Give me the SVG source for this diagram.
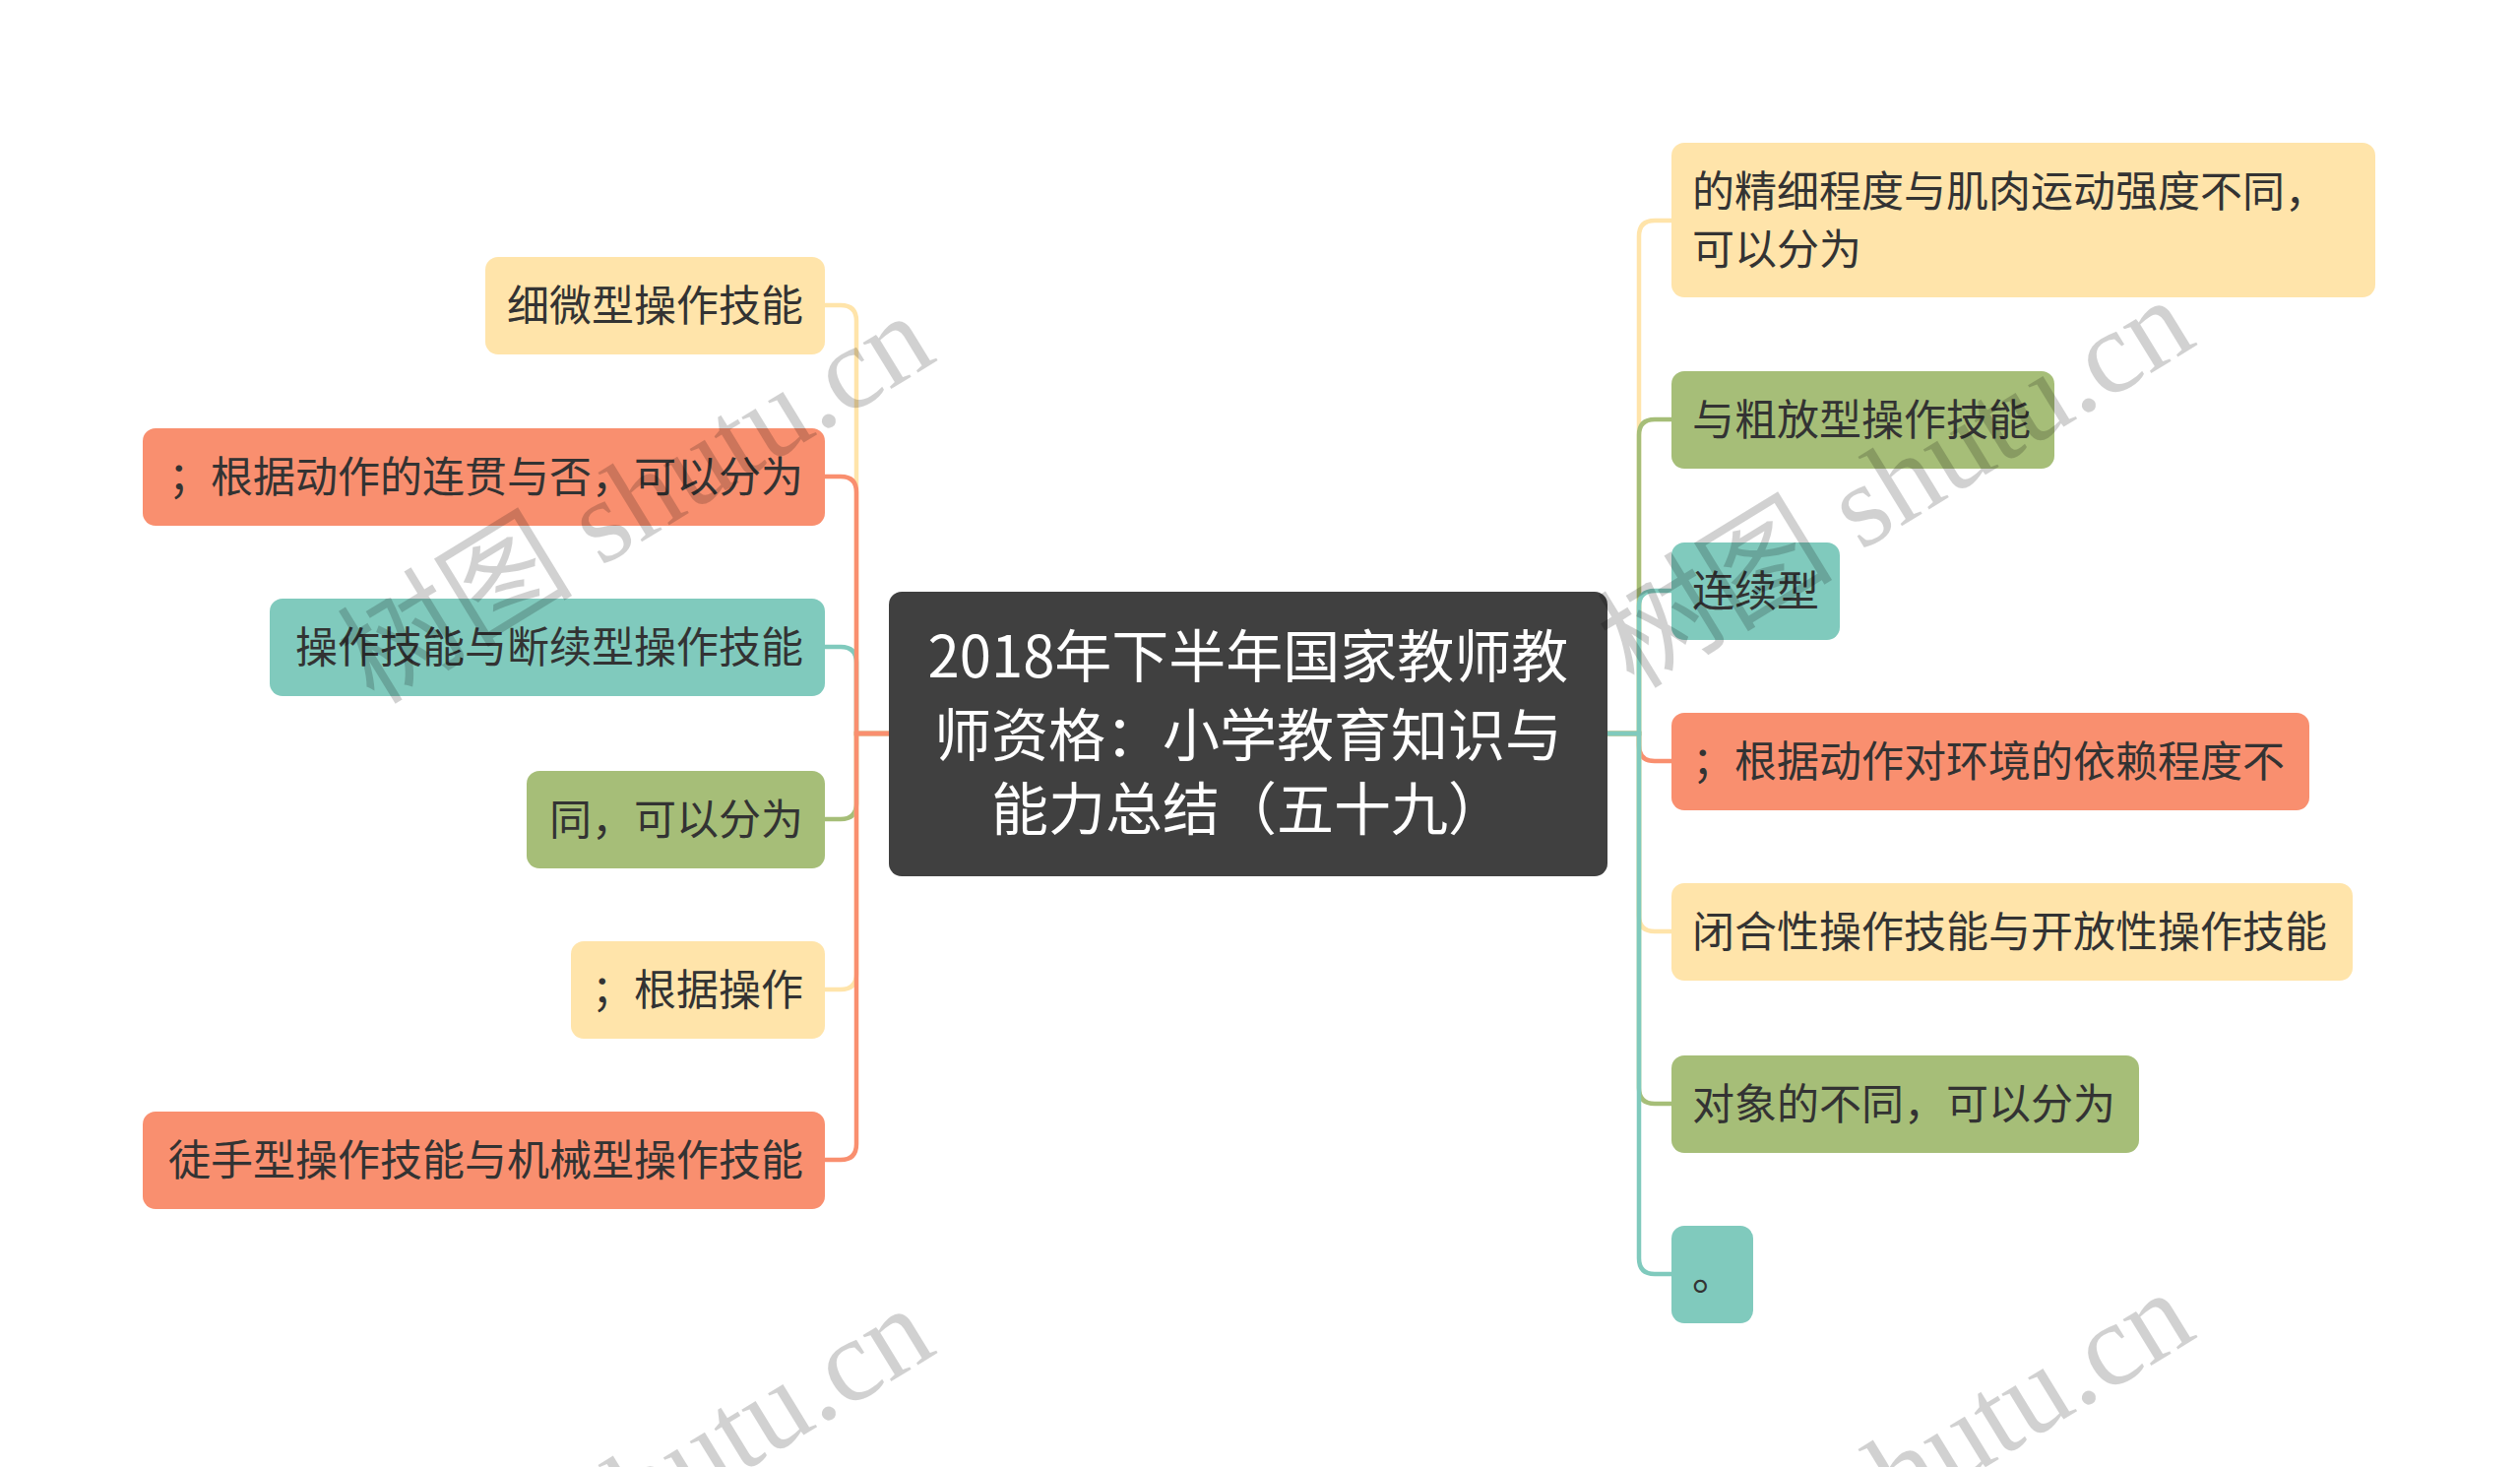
<svg xmlns="http://www.w3.org/2000/svg" width="2560" height="1490" viewBox="0 0 2560 1490">
<style>
.t{font-family:"Noto Sans CJK SC","Noto Sans",sans-serif;font-size:43px;fill:#333333}
.c{font-family:"Noto Sans CJK SC","Noto Sans",sans-serif;font-size:58px;fill:#ffffff;text-anchor:middle}
.y{fill:#FFE4AA}
.o{fill:#F98F6F}
.g{fill:#A6BE78}
.q{fill:#80CABD}
.ln{fill:none;stroke-width:4.5}
.ly{stroke:#FFE4AA}
.lo{stroke:#F98F6F}
.lg{stroke:#A6BE78}
.lq{stroke:#80CABD}
.wm{font-family:"Liberation Serif","Noto Sans CJK SC",serif;font-size:120px;fill:#000;fill-opacity:0.18}
</style>
<rect width="2560" height="1490" fill="#ffffff"/>
<g id="connectors">
<path class="ln ly" d="M903 745H870V326Q870 310 854 310H838"/>
<path class="ln lq" d="M903 745H870V673Q870 657 854 657H838"/>
<path class="ln lg" d="M903 745H870V816Q870 832 854 832H838"/>
<path class="ln ly" d="M903 745H870V989Q870 1005 854 1005H838"/>
<path class="ln lo" d="M903 745H870V500Q870 484 854 484H838"/>
<path class="ln lo" d="M903 745H870V1162Q870 1178 854 1178H838"/>
<path class="ln ly" d="M1633 745H1665V240Q1665 224 1681 224H1698"/>
<path class="ln lg" d="M1633 745H1665V442Q1665 426 1681 426H1698"/>
<path class="ln lo" d="M1633 745H1665V757Q1665 773 1681 773H1698"/>
<path class="ln ly" d="M1633 745H1665V930Q1665 946 1681 946H1698"/>
<path class="ln lg" d="M1633 745H1665V1105Q1665 1121 1681 1121H1698"/>
<path class="ln lq" d="M1633 745H1665V616Q1665 600 1681 600H1698"/>
<path class="ln lq" d="M1633 745H1665V1278Q1665 1294 1681 1294H1698"/>
</g>
<g id="center">
<rect x="903" y="601" width="730" height="289" rx="13" fill="#404040"/>
<text class="c" x="1268" y="688">2018年下半年国家教师教</text>
<text class="c" x="1268" y="768">师资格：小学教育知识与</text>
<text class="c" x="1268" y="843">能力总结（五十九）</text>
</g>
<g id="l1"><rect class="y" x="493" y="261" width="345" height="99" rx="13"/><text class="t" x="816" y="326" text-anchor="end">细微型操作技能</text></g>
<g id="l2"><rect class="o" x="145" y="435" width="693" height="99" rx="13"/><text class="t" x="816" y="500" text-anchor="end">；根据动作的连贯与否，可以分为</text></g>
<g id="l3"><rect class="q" x="274" y="608" width="564" height="99" rx="13"/><text class="t" x="816" y="673" text-anchor="end">操作技能与断续型操作技能</text></g>
<g id="l4"><rect class="g" x="535" y="783" width="303" height="99" rx="13"/><text class="t" x="816" y="848" text-anchor="end">同，可以分为</text></g>
<g id="l5"><rect class="y" x="580" y="956" width="258" height="99" rx="13"/><text class="t" x="816" y="1021" text-anchor="end">；根据操作</text></g>
<g id="l6"><rect class="o" x="145" y="1129" width="693" height="99" rx="13"/><text class="t" x="816" y="1194" text-anchor="end">徒手型操作技能与机械型操作技能</text></g>
<g id="r1"><rect class="y" x="1698" y="145" width="715" height="157" rx="13"/><text class="t" x="1719" y="210">的精细程度与肌肉运动强度不同，</text><text class="t" x="1719" y="269">可以分为</text></g>
<g id="r2"><rect class="g" x="1698" y="377" width="389" height="99" rx="13"/><text class="t" x="1719" y="442">与粗放型操作技能</text></g>
<g id="r3"><rect class="q" x="1698" y="551" width="171" height="99" rx="13"/><text class="t" x="1719" y="616">连续型</text></g>
<g id="r4"><rect class="o" x="1698" y="724" width="648" height="99" rx="13"/><text class="t" x="1719" y="789">；根据动作对环境的依赖程度不</text></g>
<g id="r5"><rect class="y" x="1698" y="897" width="692" height="99" rx="13"/><text class="t" x="1719" y="962">闭合性操作技能与开放性操作技能</text></g>
<g id="r6"><rect class="g" x="1698" y="1072" width="475" height="99" rx="13"/><text class="t" x="1719" y="1137">对象的不同，可以分为</text></g>
<g id="r7"><rect class="q" x="1698" y="1245" width="83" height="99" rx="13"/><text class="t" x="1719" y="1310">。</text></g>
<g id="watermarks">
<text class="wm" transform="translate(380 717) rotate(-31.5)">树图 shutu.cn</text>
<text class="wm" transform="translate(1660 701) rotate(-31.5)">树图 shutu.cn</text>
<text class="wm" transform="translate(380 1725) rotate(-31.5)">树图 shutu.cn</text>
<text class="wm" transform="translate(1660 1709) rotate(-31.5)">树图 shutu.cn</text>
</g>
</svg>
